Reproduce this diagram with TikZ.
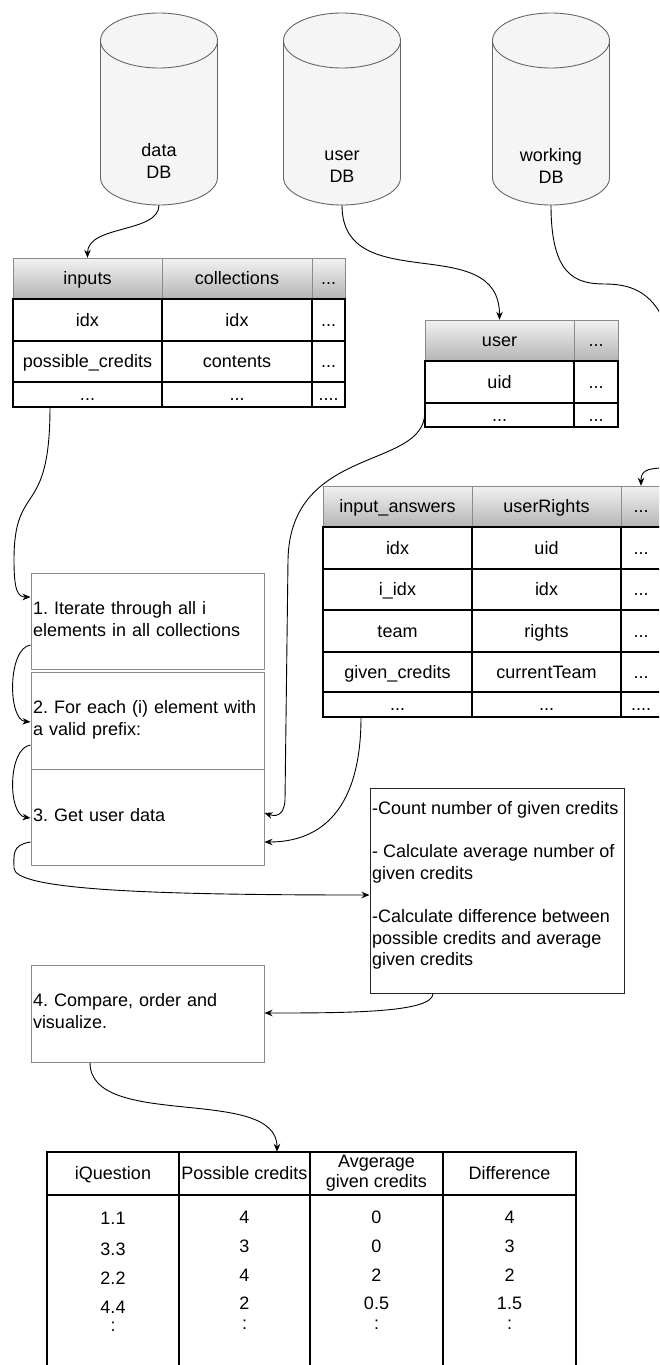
\documentclass[tikz,border=0pt]{standalone}
\usepackage{fontspec}
\setmainfont{Liberation Sans}
\usetikzlibrary{arrows.meta}

\definecolor{drumFill}{HTML}{F5F5F5}
\definecolor{drumLine}{HTML}{666666}
\definecolor{headTop}{HTML}{F2F2F2}
\definecolor{headBottom}{HTML}{B4B4B4}
\definecolor{headLine}{HTML}{8A8A8A}
\definecolor{stepLine}{HTML}{8C8C8C}

\tikzset{
  txt/.style={font=\fontsize{18}{22}\selectfont\frenchspacing, inner sep=0pt},
  cell/.style 2 args={txt, text height=15pt, text depth=3pt,
    minimum width=#1, minimum height=#2},
  val/.style={txt, text height=15pt, text depth=3pt},
  drumframe/.style={inner sep=0pt, minimum width=117pt, minimum height=192pt},
  drum/.style={fill=drumFill, draw=drumLine, line width=0.9pt},
  headrule/.style={draw=headLine, line width=1pt},
  bodyrule/.style={draw=black, line width=1.1pt},
  lastrule/.style={draw=black, line width=2pt},
  stepbox/.style={txt, draw=stepLine, line width=1pt, fill=white,
    text width=229pt, align=left, inner xsep=2pt, inner ysep=0pt},
  countbox/.style={draw=black!85, line width=1pt, inner sep=0pt,
    minimum width=254pt, minimum height=205pt},
  resrule/.style={draw=black, line width=1.1pt},
  flow/.style={draw=black, line width=0.9pt, -{Stealth[length=8pt,width=6.5pt]}}
}

% database drum: node name, centre x
\newcommand{\dbdrum}[2]{%
  \node[drumframe] (#1) at (#2,109) {};
  \filldraw[drum] ({#2-58.5},40.5) -- ({#2-58.5},177.5)
    arc[start angle=180,end angle=360,x radius=58.5pt,y radius=27.5pt]
    -- ({#2+58.5},40.5)
    arc[start angle=0,end angle=180,x radius=58.5pt,y radius=27.5pt] -- cycle;
  \draw[drum,fill=none] ({#2-58.5},40.5)
    arc[start angle=180,end angle=360,x radius=58.5pt,y radius=27.5pt];
}

\begin{document}
\begin{tikzpicture}[x=1pt,y=-1pt]
\useasboundingbox (0,0) rectangle (659,1365);
\clip (0,0) rectangle (659,1365);

% ---------- databases ----------
\dbdrum{dataDB}{159}
\dbdrum{userDB}{342}
\dbdrum{workDB}{551}
\node[txt, align=center] (dataLbl) at (159,163) {\strut data\\DB\strut};
\node[txt, align=center] (userLbl) at (342,167) {\strut user\\DB\strut};
\node[txt, align=center] (workLbl) at (551,168) {\strut working\\DB\strut};

% ---------- table: inputs / collections ----------
\shade[top color=headTop, bottom color=headBottom] (13,258) rectangle (345,299);
\draw[headrule] (13,299) |- (345,258) -- (345,299);
\draw[headrule] (162,258) -- (162,299) (312,258) -- (312,299);
\draw[bodyrule] (13,299) rectangle (345,407) (162,299) -- (162,407)
  (312,299) -- (312,407) (13,341) -- (345,341);
\draw[lastrule] (13,382) -- (345,382);
\node[cell={149pt}{41pt}] (inH1) at (87.5,278.5) {inputs};
\node[cell={150pt}{41pt}] (inH2) at (237,278.5) {collections};
\node[cell={33pt}{41pt}]  (inH3) at (328.5,278.5) {...};
\node[cell={149pt}{42pt}] (inA1) at (87.5,320) {idx};
\node[cell={150pt}{42pt}] (inA2) at (237,320) {idx};
\node[cell={33pt}{42pt}]  (inA3) at (328.5,320) {...};
\node[cell={149pt}{41pt}] (inB1) at (87.5,361.5) {possible\_credits};
\node[cell={150pt}{41pt}] (inB2) at (237,361.5) {contents};
\node[cell={33pt}{41pt}]  (inB3) at (328.5,361.5) {...};
\node[cell={149pt}{25pt}] (inC1) at (87.5,394.5) {...};
\node[cell={150pt}{25pt}] (inC2) at (237,394.5) {...};
\node[cell={33pt}{25pt}]  (inC3) at (328.5,394.5) {....};

% ---------- table: user ----------
\shade[top color=headTop, bottom color=headBottom] (425,320) rectangle (618,361);
\draw[headrule] (425,361) |- (618,320) -- (618,361);
\draw[headrule] (574,320) -- (574,361);
\draw[bodyrule] (425,361) rectangle (618,427) (574,361) -- (574,427);
\draw[lastrule] (425,403) -- (618,403);
\node[cell={149pt}{41pt}] (usH1) at (499.5,340.5) {user};
\node[cell={44pt}{41pt}]  (usH2) at (596,340.5) {...};
\node[cell={149pt}{42pt}] (usA1) at (499.5,382) {uid};
\node[cell={44pt}{42pt}]  (usA2) at (596,382) {...};
\node[cell={149pt}{24pt}] (usB1) at (499.5,415) {...};
\node[cell={44pt}{24pt}]  (usB2) at (596,415) {...};

% ---------- table: input_answers / userRights (runs past the right edge) ----------
\shade[top color=headTop, bottom color=headBottom] (323,486) rectangle (667,527);
\draw[headrule] (323,527) |- (667,486) -- (667,527);
\draw[headrule] (472,486) -- (472,527) (621,486) -- (621,527);
\draw[bodyrule] (323,527) rectangle (667,717) (472,527) -- (472,717)
  (621,527) -- (621,717) (323,569) -- (667,569) (323,610) -- (667,610)
  (323,652) -- (667,652);
\draw[lastrule] (323,692) -- (667,692);
\node[cell={149pt}{41pt}] (iaH1) at (397.5,506.5) {input\_answers};
\node[cell={149pt}{41pt}] (iaH2) at (546.5,506.5) {userRights};
\node[cell={40pt}{41pt}]  (iaH3) at (641,506.5) {...};
\node[cell={149pt}{42pt}] (iaA1) at (397.5,548) {idx};
\node[cell={149pt}{42pt}] (iaA2) at (546.5,548) {uid};
\node[cell={40pt}{42pt}]  (iaA3) at (641,548) {...};
\node[cell={149pt}{41pt}] (iaB1) at (397.5,589.5) {i\_idx};
\node[cell={149pt}{41pt}] (iaB2) at (546.5,589.5) {idx};
\node[cell={40pt}{41pt}]  (iaB3) at (641,589.5) {...};
\node[cell={149pt}{42pt}] (iaC1) at (397.5,631) {team};
\node[cell={149pt}{42pt}] (iaC2) at (546.5,631) {rights};
\node[cell={40pt}{42pt}]  (iaC3) at (641,631) {...};
\node[cell={149pt}{40pt}] (iaD1) at (397.5,672) {given\_credits};
\node[cell={149pt}{40pt}] (iaD2) at (546.5,672) {currentTeam};
\node[cell={40pt}{40pt}]  (iaD3) at (641,672) {...};
\node[cell={149pt}{25pt}] (iaE1) at (397.5,704.5) {...};
\node[cell={149pt}{25pt}] (iaE2) at (546.5,704.5) {...};
\node[cell={40pt}{25pt}]  (iaE3) at (641,704.5) {....};

% ---------- processing steps ----------
\node[stepbox, minimum height=96pt] (s1) at (147.5,621)
  {\strut 1. Iterate through all i\\elements in all collections\strut};
\node[stepbox, minimum height=97pt] (s2) at (147.5,720.5)
  {\strut 2. For each (i) element with\\a valid prefix:\strut};
\node[stepbox, minimum height=96pt] (s3) at (147.5,817)
  {\strut 3. Get user data\strut};
\node[stepbox, minimum height=97pt] (s4) at (147.5,1013.5)
  {\strut 4. Compare, order and\\visualize.\strut};

\node[countbox] (cbox) at (497,890.5) {};
\node[txt, font=\fontsize{18}{21.6}\selectfont\frenchspacing, align=left, anchor=west] (ctext) at (372,885.8)
  {\strut-Count number of given credits\\[21.6pt]
   - Calculate average number of\\given credits\\[21.6pt]
   -Calculate difference between\\possible credits and average\\given credits\strut};

% ---------- result table ----------
\draw[resrule] (47,1370) |- (576,1152) -- (576,1370);
\draw[resrule] (179,1152) -- (179,1370) (310,1152) -- (310,1370)
  (443,1152) -- (443,1370) (47,1195) -- (576,1195);
\node[cell={132pt}{43pt}] (rH1) at (113,1173.5) {iQuestion};
\node[cell={131pt}{43pt}] (rH2) at (244.5,1173.5) {Possible credits};
\node[txt, font=\fontsize{18}{20}\selectfont, align=center, minimum width=133pt, minimum height=43pt]
  (rH3) at (376.5,1173.5) {\strut Avgerage\\given credits\strut};
\node[cell={133pt}{43pt}] (rH4) at (509.5,1173.5) {Difference};

\node[val] (r1a) at (113,1218) {1.1};
\node[val] (r1b) at (244.5,1217) {4};
\node[val] (r1c) at (376.5,1217) {0};
\node[val] (r1d) at (509.5,1217) {4};
\node[val] (r2a) at (113,1249) {3.3};
\node[val] (r2b) at (244.5,1246) {3};
\node[val] (r2c) at (376.5,1246) {0};
\node[val] (r2d) at (509.5,1246) {3};
\node[val] (r3a) at (113,1278) {2.2};
\node[val] (r3b) at (244.5,1275) {4};
\node[val] (r3c) at (376.5,1275) {2};
\node[val] (r3d) at (509.5,1275) {2};
\node[val] (r4a) at (113,1307) {4.4};
\node[val] (r4b) at (244.5,1303) {2};
\node[val] (r4c) at (376.5,1303) {0.5};
\node[val] (r4d) at (509.5,1303) {1.5};
\node[val] (r5a) at (113,1325) {:};
\node[val] (r5b) at (244.5,1323) {:};
\node[val] (r5c) at (376.5,1323) {:};
\node[val] (r5d) at (509.5,1323) {:};

% ---------- connectors ----------
\draw[flow] (dataDB.south) .. controls +(0,28) and +(0,-33) .. (inH1.north);
\draw[flow] (userDB.south) .. controls +(0,93) and +(0,-90) .. (usH1.north);
\draw[flow] (workDB.south) .. controls +(0,70) and +(-30,0) .. (605,284)
  .. controls +(30,0) and +(-13,-35) .. (668,330)
  .. controls +(22,55) and +(30,0) .. (665,468)
  .. controls +(-20,0) and +(0,-14) .. (iaH3.north);
\draw[flow] ([xshift=-37.5pt]inC1.south) .. controls +(0,113) and +(0,-80) .. (14,560)
  .. controls +(0,30) and +(-13,0) .. ([yshift=24pt]s1.west);
\draw[flow] ([yshift=-24pt]s1.west) .. controls +(-23,3) and +(-23,-2) .. ([yshift=-1.5pt]s2.west);
\draw[flow] ([yshift=-24.5pt]s2.west) .. controls +(-23,3) and +(-23,-3) .. ([yshift=-1pt]s3.west);
\draw[flow] ([yshift=-25pt]s3.west) .. controls +(-19,3) and +(0,-13) .. (14,868)
  .. controls +(0,22) and +(-218,0) .. ([yshift=-4.5pt]cbox.west);
\draw[flow] ([yshift=2pt]usB1.west) .. controls +(-1,57) and +(2,-115) .. (288,560)
  -- (285,800) .. controls +(-1,18) and +(9,3) .. ([yshift=4pt]s3.east);
\draw[flow] ([xshift=-36.5pt]iaE1.south) .. controls +(0,93) and +(56,0) .. ([yshift=-25pt]s3.east);
\draw[flow] ([xshift=-64pt]cbox.south) .. controls +(0,19) and +(86,0) .. ([yshift=0.5pt]s4.east);
\draw[flow] ([xshift=-57.5pt]s4.south) .. controls +(0,68) and +(0,-67) .. ([xshift=32.5pt]rH2.north);

\end{tikzpicture}
\end{document}
